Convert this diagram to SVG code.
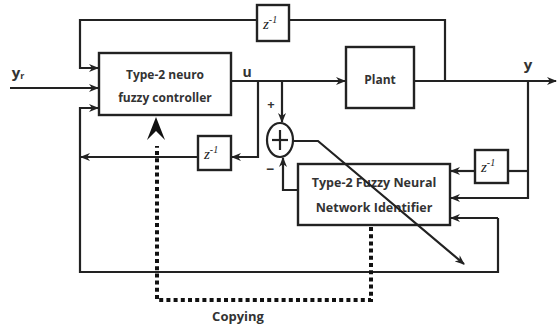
<svg xmlns="http://www.w3.org/2000/svg" width="559" height="329" viewBox="0 0 559 329">
<defs>
<marker id="ah" markerWidth="10" markerHeight="8" refX="9" refY="4" orient="auto" markerUnits="userSpaceOnUse">
<path d="M0,0 L10,4 L0,8 L3,4 Z" fill="#222"/>
</marker>
<style>
.ln{fill:none;stroke:#222;stroke-width:2.2}
.bx{fill:#fff;stroke:#222;stroke-width:2.4}
.t{font-family:"Open Sans","Liberation Sans",sans-serif;font-weight:bold;fill:#333;text-anchor:middle}
.z{font-family:"Liberation Serif",serif;font-style:italic;fill:#222;font-size:15px}
.dot{fill:none;stroke:#111;stroke-width:4;stroke-dasharray:4 3.2}
</style>
</defs>
<rect width="559" height="329" fill="#fff"/>
<g id="controller">
<rect class="bx" x="99" y="53" width="132" height="62"/>
<text class="t" x="165" y="79" font-size="12">Type-2 neuro</text>
<text class="t" x="165" y="102" font-size="12">fuzzy controller</text>
</g>
<g id="plant">
<rect class="bx" x="346" y="47" width="68" height="61"/>
<text class="t" x="380" y="84" font-size="12">Plant</text>
</g>
<g id="identifier">
<rect class="bx" x="298" y="164" width="152" height="61"/>
<text class="t" x="374" y="187" font-size="12.5">Type-2 Fuzzy Neural</text>
<text class="t" x="374" y="212" font-size="12.5">Network Identifier</text>
</g>
<g id="z1">
<rect class="bx" x="257" y="5" width="32" height="36"/>
<text class="z" x="263" y="29">z<tspan font-size="10" dy="-6">-1</tspan></text>
</g>
<g id="z2">
<rect class="bx" x="198" y="136" width="33" height="34"/>
<text class="z" x="204" y="159">z<tspan font-size="10" dy="-6">-1</tspan></text>
</g>
<g id="z3">
<rect class="bx" x="475" y="150" width="33" height="33"/>
<text class="z" x="481" y="172">z<tspan font-size="10" dy="-6">-1</tspan></text>
</g>
<g id="sum">
<ellipse cx="280" cy="140" rx="13" ry="17" fill="#fff" stroke="#222" stroke-width="2.2"/>
<line class="ln" x1="272" y1="140" x2="288" y2="140"/>
<line class="ln" x1="280" y1="130" x2="280" y2="150"/>
<text class="t" x="271" y="109" font-size="13">+</text>
<text class="t" x="270" y="174" font-size="14">−</text>
</g>
<g id="labels">
<text class="t" x="18" y="78" font-size="15">y<tspan font-size="9" dy="1">r</tspan></text>
<text class="t" x="247" y="77" font-size="14">u</text>
<text class="t" x="528" y="70" font-size="15">y</text>
<text class="t" x="238" y="321" font-size="13" font-weight="600">Copying</text>
</g>
<g id="connectors">
<polyline class="ln" points="445,81 445,20 289,20"/>
<polyline class="ln" points="257,20 80,20 80,68 98,68" marker-end="url(#ah)"/>
<line class="ln" x1="10" y1="88" x2="98" y2="88" marker-end="url(#ah)"/>
<polyline class="ln" points="498,218 498,272 80,272 80,108 98,108" marker-end="url(#ah)"/>
<line class="ln" x1="231" y1="81" x2="345" y2="81" marker-end="url(#ah)"/>
<line class="ln" x1="414" y1="81" x2="556" y2="81" marker-end="url(#ah)"/>
<polyline class="ln" points="258,81 258,157 232,157" marker-end="url(#ah)"/>
<line class="ln" x1="198" y1="157" x2="81" y2="157" marker-end="url(#ah)"/>
<line class="ln" x1="282" y1="81" x2="282" y2="122" marker-end="url(#ah)"/>
<polyline class="ln" points="298,190 283,190 283,158" marker-end="url(#ah)"/>
<polyline class="ln" points="293,141 318,141 464,264" marker-end="url(#ah)"/>
<polyline class="ln" points="528,81 528,198 451,198" marker-end="url(#ah)"/>
<line class="ln" x1="528" y1="171" x2="508" y2="171"/>
<line class="ln" x1="475" y1="171" x2="451" y2="171" marker-end="url(#ah)"/>
<polyline class="ln" points="498,218 451,218" marker-end="url(#ah)"/>
<polyline class="dot" points="371,227 371,300 157,300 157,146"/>
<path d="M147,140 L156,117 L165,140 L156,131 Z" fill="#111"/>
</g>
</svg>
